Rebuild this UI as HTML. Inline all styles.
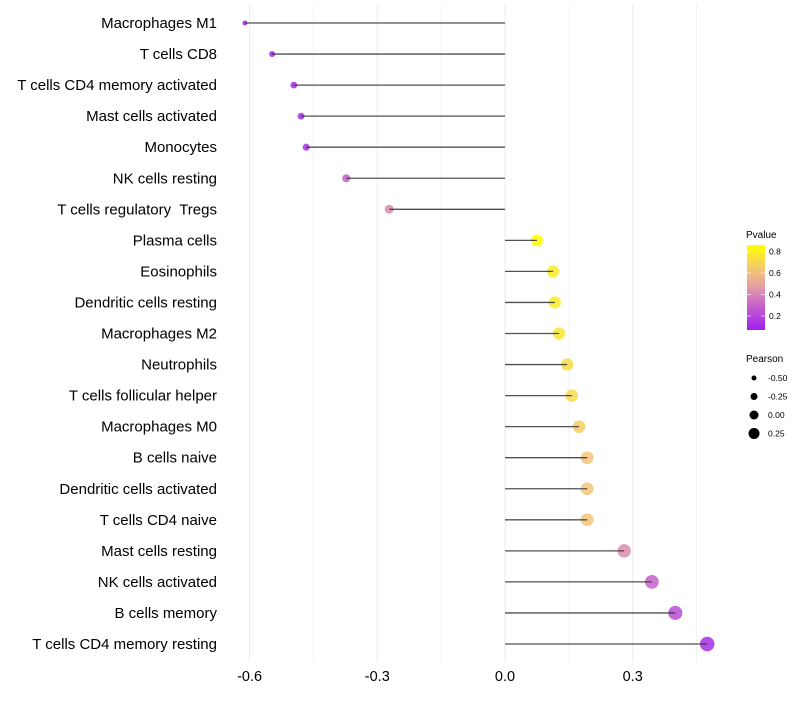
<!DOCTYPE html>
<html><head><meta charset="utf-8">
<style>
body{margin:0;background:#fff;font-family:"Liberation Sans",Arial,sans-serif;}
svg text{font-family:"Liberation Sans",Arial,sans-serif;white-space:pre;}
</style></head>
<body>
<svg id="chart" width="800" height="700" xmlns="http://www.w3.org/2000/svg">
<defs>
<linearGradient id="pgrad" x1="0" y1="1" x2="0" y2="0">
<stop offset="0" stop-color="#a020f0"/>
<stop offset="0.3" stop-color="#c864c8"/>
<stop offset="0.5" stop-color="#e29ca6"/>
<stop offset="0.7" stop-color="#f3c478"/>
<stop offset="1" stop-color="#ffff00"/>
</linearGradient>
</defs>
<g id="grid"></g>
<g id="marks"></g>
<g id="ylabels"></g>
<g id="xlabels"></g>
<g>
<text x="746" y="238" font-size="10" fill="#000">Pvalue</text>
<rect x="747" y="245" width="18" height="85" fill="url(#pgrad)"/>
<g id="cbticks"></g>
</g>
<g>
<text x="746" y="362" font-size="10" fill="#000">Pearson</text>
<g id="sizeleg"></g>
</g>
</svg>
<script>
const categories=["Macrophages M1","T cells CD8","T cells CD4 memory activated","Mast cells activated","Monocytes","NK cells resting","T cells regulatory  Tregs","Plasma cells","Eosinophils","Dendritic cells resting","Macrophages M2","Neutrophils","T cells follicular helper","Macrophages M0","B cells naive","Dendritic cells activated","T cells CD4 naive","Mast cells resting","NK cells activated","B cells memory","T cells CD4 memory resting"];
const pearson=[-0.611,-0.547,-0.496,-0.479,-0.467,-0.373,-0.272,0.075,0.113,0.117,0.127,0.146,0.157,0.174,0.193,0.193,0.193,0.28,0.345,0.40,0.475];
const pvalue=[0.05,0.08,0.10,0.12,0.12,0.28,0.42,0.86,0.78,0.78,0.76,0.72,0.70,0.66,0.62,0.62,0.62,0.42,0.30,0.22,0.12];
const xTicks=[-0.6,-0.3,0.0,0.3];
const xTickLabels=["-0.6","-0.3","0.0","0.3"];
const cbTicks=[0.2,0.4,0.6,0.8];
const sizeLegend=[-0.5,-0.25,0,0.25];
const sizeLegendLabels=["-0.50","-0.25","0.00","0.25"];

const NS="http://www.w3.org/2000/svg";
function mk(tag,attrs,parent){const e=document.createElementNS(NS,tag);for(const k in attrs)e.setAttribute(k,attrs[k]);parent.appendChild(e);return e;}
const xS=v=>505+v*425.7;
const yS=i=>23+i*31.05;
const rS=v=>Math.sqrt(Math.max(2.5,32.5+43*v));
const rL=v=>4.5+4*v;
const pY=p=>330-(p-0.07)*(85/0.79);
const stops=[[0.07,[160,32,240]],[0.31,[200,100,200]],[0.465,[226,156,166]],[0.62,[243,196,120]],[0.86,[255,255,0]]];
function pCol(p){
  if(p<=stops[0][0])return `rgb(${stops[0][1]})`;
  for(let i=1;i<stops.length;i++){if(p<=stops[i][0]){const a=stops[i-1],b=stops[i],t=(p-a[0])/(b[0]-a[0]);return 'rgb('+a[1].map((c,j)=>Math.round(c+(b[1][j]-c)*t)).join(',')+')';}}
  return 'rgb(255,255,0)';
}
const grid=document.getElementById('grid');
for(let v=-0.6;v<=0.46;v+=0.15){
  const l=mk('line',{x1:xS(v),x2:xS(v),y1:5,y2:662,stroke:'#ebebeb','stroke-width':Math.abs(Math.round(v/0.15))%2===0?1:0.6},grid);
  
  
}
const marks=document.getElementById('marks');
const yl=document.getElementById('ylabels');
categories.forEach((c,i)=>{
  const y=yS(i);
  const pt=mk('circle',{cx:xS(pearson[i]),cy:y,r:rS(pearson[i]),fill:pCol(pvalue[i]),'fill-opacity':0.85},marks);
  
  
  const ln=mk('line',{x1:xS(0),x2:xS(pearson[i]),y1:y,y2:y,stroke:'#333','stroke-width':1.3,'stroke-opacity':0.85},marks);
  
  
  const t=mk('text',{x:217,y:y+5,'text-anchor':'end','font-size':15,fill:'#000'},yl);
  t.textContent=c;
  
  
});
const xl=document.getElementById('xlabels');
xTicks.forEach((v,i)=>{
  const t=mk('text',{x:xS(v),y:681,'text-anchor':'middle','font-size':14.5,fill:'#000'},xl);
  t.textContent=xTickLabels[i];
  
  
});
const cb=document.getElementById('cbticks');
cbTicks.forEach(p=>{
  const y=pY(p);
  mk('line',{x1:747,x2:751,y1:y,y2:y,stroke:'#fff','stroke-opacity':0.6},cb);
  mk('line',{x1:761,x2:765,y1:y,y2:y,stroke:'#fff','stroke-opacity':0.6},cb);
  const t=mk('text',{x:769,y:y+3,'font-size':8.5,fill:'#000'},cb);
  t.textContent=p.toFixed(1);
  
  
});
const sl=document.getElementById('sizeleg');
sizeLegend.forEach((v,i)=>{
  const y=378+i*18.5;
  const c=mk('circle',{cx:754,cy:y,r:rL(v),fill:'#000'},sl);
  
  
  const t=mk('text',{x:768,y:y+3,'font-size':8.5,fill:'#000'},sl);
  t.textContent=sizeLegendLabels[i];
  
  
});
</script>
</body></html>
